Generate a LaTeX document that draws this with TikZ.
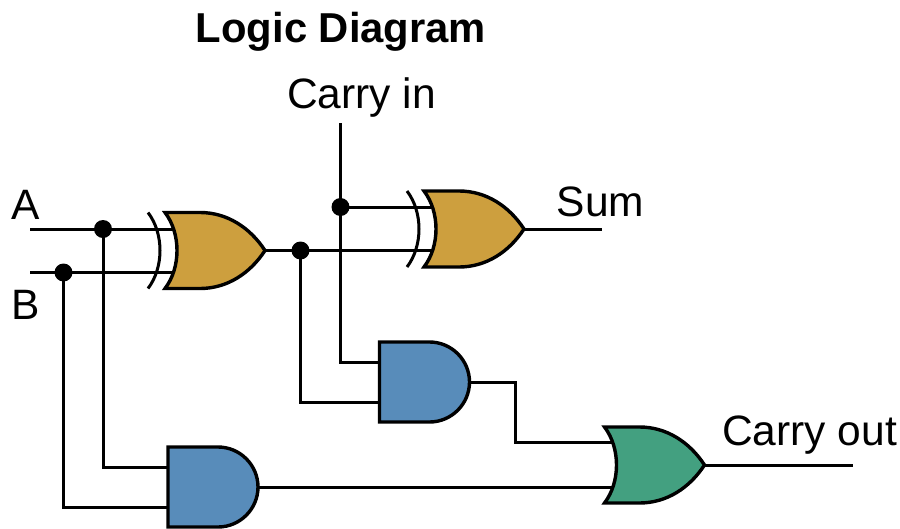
\documentclass[tikz,border=0pt]{standalone}
\usepackage{fontspec}
\setmainfont{Liberation Sans}
\definecolor{xorcol}{RGB}{205,159,62}
\definecolor{andcol}{RGB}{88,140,186}
\definecolor{orcol}{RGB}{67,160,128}
\tikzset{
  wire/.style={line width=3pt,black},
  gateline/.style={line width=3.4pt,black,line join=miter},
  dot/.style={circle,fill=black,draw=none,minimum size=18pt,inner sep=0pt},
  lbl/.style={font=\fontsize{42.5}{42}\selectfont,inner sep=0pt,text=black},
  ttl/.style={font=\fontsize{41.8}{42}\selectfont\bfseries,inner sep=0pt,text=black},
  orgate/.pic={
    \draw[gateline,fill=#1] (0,0) -- (35,0) .. controls (62,0) and (85,15) .. (100,38)
      .. controls (85,61) and (62,76) .. (35,76) -- (0,76)
      .. controls (16,55) and (16,21) .. (0,0) -- cycle;
    \coordinate (-a) at (9,16);
    \coordinate (-b) at (9,60);
    \coordinate (-o) at (100,38);
  },
  xorgate/.pic={
    \pic (-g) {orgate={#1}};
    \draw[wire] (-17,0) .. controls (-1,21) and (-1,55) .. (-17,76);
    \coordinate (-a) at (-g-a);
    \coordinate (-b) at (-g-b);
    \coordinate (-o) at (-g-o);
  },
  andgate/.pic={
    \draw[gateline,fill=#1] (0,0) -- (50,0) .. controls (72,0) and (90,18) .. (90,40)
      .. controls (90,62) and (72,80) .. (50,80) -- (0,80) -- cycle;
    \coordinate (-a) at (0,20);
    \coordinate (-b) at (0,60);
    \coordinate (-o) at (90,40);
  }
}
\begin{document}
\begin{tikzpicture}[x=1pt,y=-1pt]
\useasboundingbox (0,0) rectangle (900,528);
% gates
\pic (xa) at (165,212.5) {xorgate={xorcol}};
\pic (xb) at (424,191) {xorgate={xorcol}};
\pic (aa) at (379.5,342) {andgate={andcol}};
\pic (ab) at (168,447) {andgate={andcol}};
\pic (oc) at (604.5,427) {orgate={orcol}};
% junctions
\node[dot] (ja) at (103,229) {};
\node[dot] (jb) at (63.5,272.5) {};
\node[dot] (jx) at (300.5,250.5) {};
\node[dot] (jc) at (340.5,207) {};
% free ends
\coordinate (Ain) at (30,229);
\coordinate (Bin) at (30,272.5);
\coordinate (Cin) at (340.5,123);
\coordinate (Sout) at (602,229);
\coordinate (Cout) at (853,465);
\coordinate (bend) at (515,442.5);
% wires
\draw[wire] (Ain) -- (ja.center) -- (ja.center -| xa-a);
\draw[wire] (Bin) -- (jb.center) -- (jb.center -| xa-b);
\draw[wire] (xa-o) -- (jx.center) -- (jx.center -| xb-b);
\draw[wire] (Cin) -- (jc.center) |- (aa-a);
\draw[wire] (jc.center) -- (jc.center -| xb-a);
\draw[wire] (jx.center) |- (aa-b);
\draw[wire] (ja.center) |- (ab-a);
\draw[wire] (jb.center) |- (ab-b);
\draw[wire] (xb-o) -- (Sout);
\draw[wire] (aa-o) -| (bend) -- (bend -| oc-a);
\draw[wire] (ab-o) -- (oc-b);
\draw[wire] (oc-o) -- (Cout);
% labels
\node[ttl] (title) at (341,31.5) {Logic Diagram};
\node[lbl] (lc) at (361.5,97.5) {Carry in};
\node[lbl] (la) at (26,205) {A};
\node[lbl] (lb) at (26,305) {B};
\node[lbl] (ls) at (600.5,202) {Sum};
\node[lbl] (lo) at (809.5,435) {Carry out};
\end{tikzpicture}
\end{document}
